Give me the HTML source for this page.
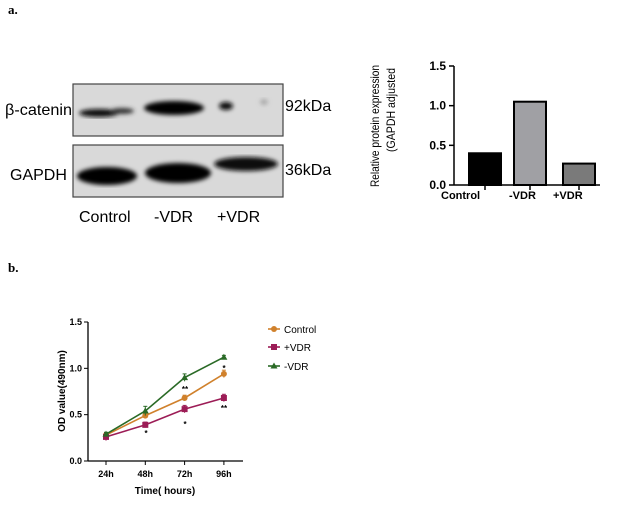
<!DOCTYPE html>
<html><head><meta charset="utf-8"><style>
body{margin:0;background:#fff;width:620px;height:506px;overflow:hidden;font-family:"Liberation Sans",sans-serif}
svg{position:absolute;left:0;top:0}
</style></head><body>
<svg width="620" height="506">
<defs>
<filter id="blur"><feGaussianBlur stdDeviation="2.2"/></filter>
</defs>
<text x="8" y="14" font-family="Liberation Serif" font-weight="bold" font-size="13">a.</text>
<text x="8" y="272" font-family="Liberation Serif" font-weight="bold" font-size="13">b.</text>
<g>
<rect x="73" y="84" width="210" height="52" fill="#d9d9d9" stroke="#444" stroke-width="1.2"/>
<g filter="url(#blur)">
<ellipse cx="99" cy="113" rx="20" ry="4" fill="#111"/><ellipse cx="122" cy="111" rx="12" ry="3" fill="#333"/>
<ellipse cx="174" cy="108" rx="30" ry="7" fill="#000"/>
<ellipse cx="226" cy="106" rx="7" ry="4" fill="#111"/>
<ellipse cx="264" cy="102" rx="4" ry="3" fill="#aaa"/>
</g>
<rect x="73" y="145" width="210" height="52" fill="#d9d9d9" stroke="#444" stroke-width="1.2"/>
<g filter="url(#blur)">
<ellipse cx="107" cy="176" rx="30" ry="9" fill="#000"/>
<ellipse cx="178" cy="173" rx="33" ry="10" fill="#000"/>
<ellipse cx="246" cy="164" rx="32" ry="7" fill="#111"/>
</g>
<text x="5" y="115" font-size="16" textLength="67" lengthAdjust="spacingAndGlyphs">β-catenin</text>
<text x="10" y="180" font-size="16">GAPDH</text>
<text x="285" y="111" font-size="16">92kDa</text>
<text x="285" y="175" font-size="16">36kDa</text>
<text x="79" y="222" font-size="16">Control</text>
<text x="154" y="222" font-size="16">-VDR</text>
<text x="217" y="222" font-size="16">+VDR</text>
</g>
<g id="bar"></g>
<g id="line"></g>
</svg>
<script>
const barCats=["Control","-VDR","+VDR"];
const barVals=[0.40,1.05,0.27];
const barTicks=[0,0.5,1.0,1.5];
const lineCats=["24h","48h","72h","96h"];
const controlVals=[0.28,0.49,0.68,0.94];
const controlErr=[0.02,0.03,0.03,0.04];
const plusVals=[0.26,0.39,0.56,0.68];
const plusErr=[0.04,0.03,0.04,0.04];
const minusVals=[0.29,0.54,0.90,1.12];
const minusErr=[0.02,0.05,0.04,0.02];
const lineTicks=[0,0.5,1.0,1.5];
const ns="http://www.w3.org/2000/svg";
function mk(p,t,a,txt){const e=document.createElementNS(ns,t);for(const k in a)e.setAttribute(k,a[k]);if(txt!=null)e.textContent=txt;p.appendChild(e);return e;}
// bar chart
const bg=document.getElementById('bar');
const by=v=>185-v*(119/1.5);
const bx=[485,530,579],bfill=["#000","#a0a0a4","#7a7a7a"];
let e=mk(bg,'line',{x1:454,y1:by(0),x2:454,y2:by(1.5),stroke:'#000','stroke-width':1.5});


barTicks.forEach(t=>{mk(bg,'line',{x1:449,x2:454,y1:by(t),y2:by(t),stroke:'#000','stroke-width':1.5});
e=mk(bg,'text',{x:446,y:by(t)+4,'text-anchor':'end','font-size':12,'font-weight':'bold'},t.toFixed(1));

});
e=mk(bg,'line',{x1:454,y1:by(0),x2:600,y2:by(0),stroke:'#000','stroke-width':1.5});


barVals.forEach((v,i)=>{e=mk(bg,'rect',{x:bx[i]-16,y:by(v),width:32,height:by(0)-by(v),fill:bfill[i],stroke:'#000','stroke-width':2});


mk(bg,'line',{x1:bx[i],x2:bx[i],y1:by(0),y2:by(0)+5,stroke:'#000','stroke-width':1.5});});
[["Control",441],["-VDR",509],["+VDR",553]].forEach(([t,x])=>{e=mk(bg,'text',{x:x,y:199,'font-size':11,'font-weight':'bold'},t);

});
e=mk(bg,'text',{transform:'translate(379,126) rotate(-90)','text-anchor':'middle','font-size':12,textLength:122,lengthAdjust:'spacingAndGlyphs'},'Relative protein expression');


mk(bg,'text',{transform:'translate(395,110) rotate(-90)','text-anchor':'middle','font-size':12,textLength:84,lengthAdjust:'spacingAndGlyphs'},'(GAPDH adjusted');
// line chart
const lg=document.getElementById('line');
const ly=v=>461-v*(139/1.5);
const lx=i=>106+i*39.3;
mk(lg,'line',{x1:88,y1:ly(0),x2:88,y2:ly(1.5),stroke:'#000','stroke-width':1.3});
mk(lg,'line',{x1:88,y1:ly(0),x2:243,y2:ly(0),stroke:'#000','stroke-width':1.3});
lineTicks.forEach(t=>{mk(lg,'line',{x1:84,x2:88,y1:ly(t),y2:ly(t),stroke:'#000'});
e=mk(lg,'text',{x:82,y:ly(t)+3,'text-anchor':'end','font-size':9,'font-weight':'bold'},t.toFixed(1));

});
lineCats.forEach((c,i)=>{mk(lg,'line',{x1:lx(i),x2:lx(i),y1:ly(0),y2:ly(0)+4,stroke:'#000'});
e=mk(lg,'text',{x:lx(i),y:ly(0)+16,'text-anchor':'middle','font-size':9,'font-weight':'bold'},c);

});
e=mk(lg,'text',{x:165,y:494,'text-anchor':'middle','font-size':10,'font-weight':'bold'},'Time( hours)');


e=mk(lg,'text',{transform:'translate(65,391) rotate(-90)','text-anchor':'middle','font-size':10,'font-weight':'bold'},'OD value(490nm)');


const series=[["Control",controlVals,controlErr,"#d0812c","circle"],["+VDR",plusVals,plusErr,"#9c1c56","square"],["-VDR",minusVals,minusErr,"#2a6a26","tri"]];
function marker(g,x,y,col,s){if(s=='circle')return mk(g,'circle',{cx:x,cy:y,r:3,fill:col});
if(s=='square')return mk(g,'rect',{x:x-3,y:y-3,width:6,height:6,fill:col});
return mk(g,'polygon',{points:`${x},${y-3.5} ${x+3.5},${y+2.5} ${x-3.5},${y+2.5}`,fill:col});}
series.forEach(([n,vals,err,col,s])=>{
e=mk(lg,'polyline',{points:vals.map((v,i)=>lx(i)+','+ly(v)).join(' '),fill:'none',stroke:col,'stroke-width':1.6});


vals.forEach((v,i)=>{mk(lg,'line',{x1:lx(i),x2:lx(i),y1:ly(v+err[i]),y2:ly(v-err[i]),stroke:col});
mk(lg,'line',{x1:lx(i)-2,x2:lx(i)+2,y1:ly(v+err[i]),y2:ly(v+err[i]),stroke:col});
e=marker(lg,lx(i),ly(v),col,s);

});
});
const legY=[333,351,370];
series.forEach(([n,v,er,col,s],i)=>{mk(lg,'line',{x1:268,x2:280,y1:legY[i]-4,y2:legY[i]-4,stroke:col,'stroke-width':1.6});
marker(lg,274,legY[i]-4,col,s);
e=mk(lg,'text',{x:284,y:legY[i],'font-size':10},n);

});
[[146,436,"*"],[185,427,"*"],[185,392,"**"],[224,411,"**"],[224,371,"*"]].forEach(([x,y,t])=>mk(lg,'text',{x:x,y:y,'text-anchor':'middle','font-size':8,'font-weight':'bold'},t));
</script>
</body></html>
